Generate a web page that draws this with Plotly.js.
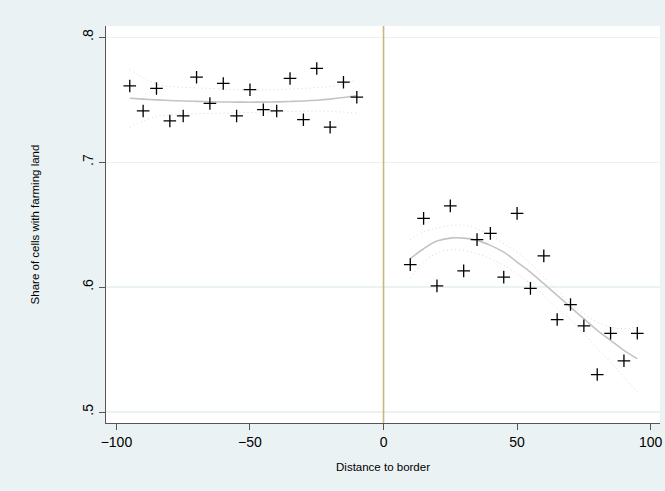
<!DOCTYPE html>
<html>
<head>
<meta charset="utf-8">
<script src="https://cdn.plot.ly/plotly-3.0.1.min.js"></script>
<style>html,body{margin:0;padding:0;background:#eaf2f3;}#chart{width:665px;height:491px;}</style>
</head>
<body>
<div id="chart"></div>
<script>
// Left of border
const xLeft = [-95,-90,-85,-80,-75,-70,-65,-60,-55,-50,-45,-40,-35,-30,-25,-20,-15,-10];
const yLeft = [0.761,0.741,0.759,0.733,0.737,0.768,0.747,0.763,0.737,0.758,0.742,0.741,0.767,0.734,0.775,0.728,0.764,0.752];
const fitLeft = [0.7512,0.7505,0.7499,0.7494,0.749,0.7487,0.7484,0.7482,0.7481,0.748,0.7481,0.7483,0.7486,0.749,0.7496,0.7505,0.7517,0.7531];
const hiLeft  = [0.774,0.7675,0.7625,0.7605,0.760,0.7595,0.759,0.7585,0.758,0.7578,0.7578,0.758,0.7585,0.759,0.7597,0.7607,0.7625,0.766];
const loLeft  = [0.728,0.733,0.7365,0.738,0.7385,0.7388,0.739,0.7393,0.7395,0.7398,0.740,0.7403,0.7405,0.7408,0.741,0.7408,0.740,0.7392];
// Right of border
const xRight = [10,15,20,25,30,35,40,45,50,55,60,65,70,75,80,85,90,95];
const yRight = [0.618,0.655,0.601,0.665,0.613,0.638,0.643,0.608,0.659,0.599,0.625,0.574,0.586,0.569,0.530,0.563,0.541,0.563];
const fitRight = [0.6227,0.6307,0.6368,0.6392,0.6392,0.6374,0.6334,0.628,0.620,0.612,0.6027,0.5934,0.584,0.5747,0.5654,0.5574,0.5494,0.5427];
const hiRight  = [0.6379,0.644,0.6472,0.6494,0.6494,0.6467,0.6414,0.6347,0.628,0.6187,0.608,0.5974,0.5867,0.5787,0.572,0.568,0.5667,0.568];
const loRight  = [0.6067,0.620,0.6272,0.6299,0.6294,0.6267,0.6227,0.6174,0.6107,0.6027,0.5934,0.5827,0.5734,0.5627,0.5507,0.540,0.528,0.516];
const borderX = [0, 0];
const borderY = [0.4912, 0.809];

const xTicks = [-100,-50,0,50,100];
const xTickText = ['\u2212100','\u221250','0','50','100'];
const yTicks = [0.5,0.6,0.7,0.8];
const yTickText = ['.5','.6','.7','.8'];

const ciStyle = {color:'#d6d6d6', width:1, dash:'1px,3px', shape:'spline'};
const fitStyle = {color:'#c4c4c4', width:1.6, shape:'spline'};
const mk = {symbol:'cross-thin-open', size:9, color:'#000', line:{color:'#000', width:1.3}};

const traces = [
  {x:borderX, y:borderY, mode:'lines', line:{color:'#c9b87a', width:1.6}, hoverinfo:'skip'},
  {x:xLeft, y:hiLeft, mode:'lines', line:ciStyle},
  {x:xLeft, y:loLeft, mode:'lines', line:ciStyle},
  {x:xLeft, y:fitLeft, mode:'lines', line:fitStyle},
  {x:xLeft, y:yLeft, mode:'markers', marker:mk},
  {x:xRight, y:hiRight, mode:'lines', line:ciStyle},
  {x:xRight, y:loRight, mode:'lines', line:ciStyle},
  {x:xRight, y:fitRight, mode:'lines', line:fitStyle},
  {x:xRight, y:yRight, mode:'markers', marker:mk}
];

const layout = {
  width:665, height:491,
  paper_bgcolor:'#eaf2f3', plot_bgcolor:'#ffffff',
  showlegend:false,
  margin:{l:106, r:5, t:25.5, b:68.3},
  font:{family:'"Liberation Sans", Arial, Helvetica, sans-serif', color:'#000'},
  xaxis:{
    range:[-103.9,103.5], tickvals:xTicks, ticktext:xTickText,
    showgrid:false, zeroline:false, showline:true, linecolor:'#555', linewidth:1,
    ticks:'outside', ticklen:6, tickcolor:'#555', tickwidth:1,
    tickfont:{size:14}, mirror:false,
    title:{text:'Distance to border', font:{size:11.5}, standoff:14}
  },
  yaxis:{
    range:[0.4912,0.809], tickvals:yTicks, ticktext:yTickText, tickangle:-90,
    showgrid:true, gridcolor:'#eaf2f3', gridwidth:1.2, zeroline:false,
    showline:true, linecolor:'#555', linewidth:1,
    ticks:'outside', ticklen:6, tickcolor:'#555', tickwidth:1,
    tickfont:{size:14},
    title:{text:'Share of cells with farming land', font:{size:11.5}, standoff:38}
  }
};

Plotly.newPlot('chart', traces, layout, {displayModeBar:false, staticPlot:true});
</script>
</body>
</html>
